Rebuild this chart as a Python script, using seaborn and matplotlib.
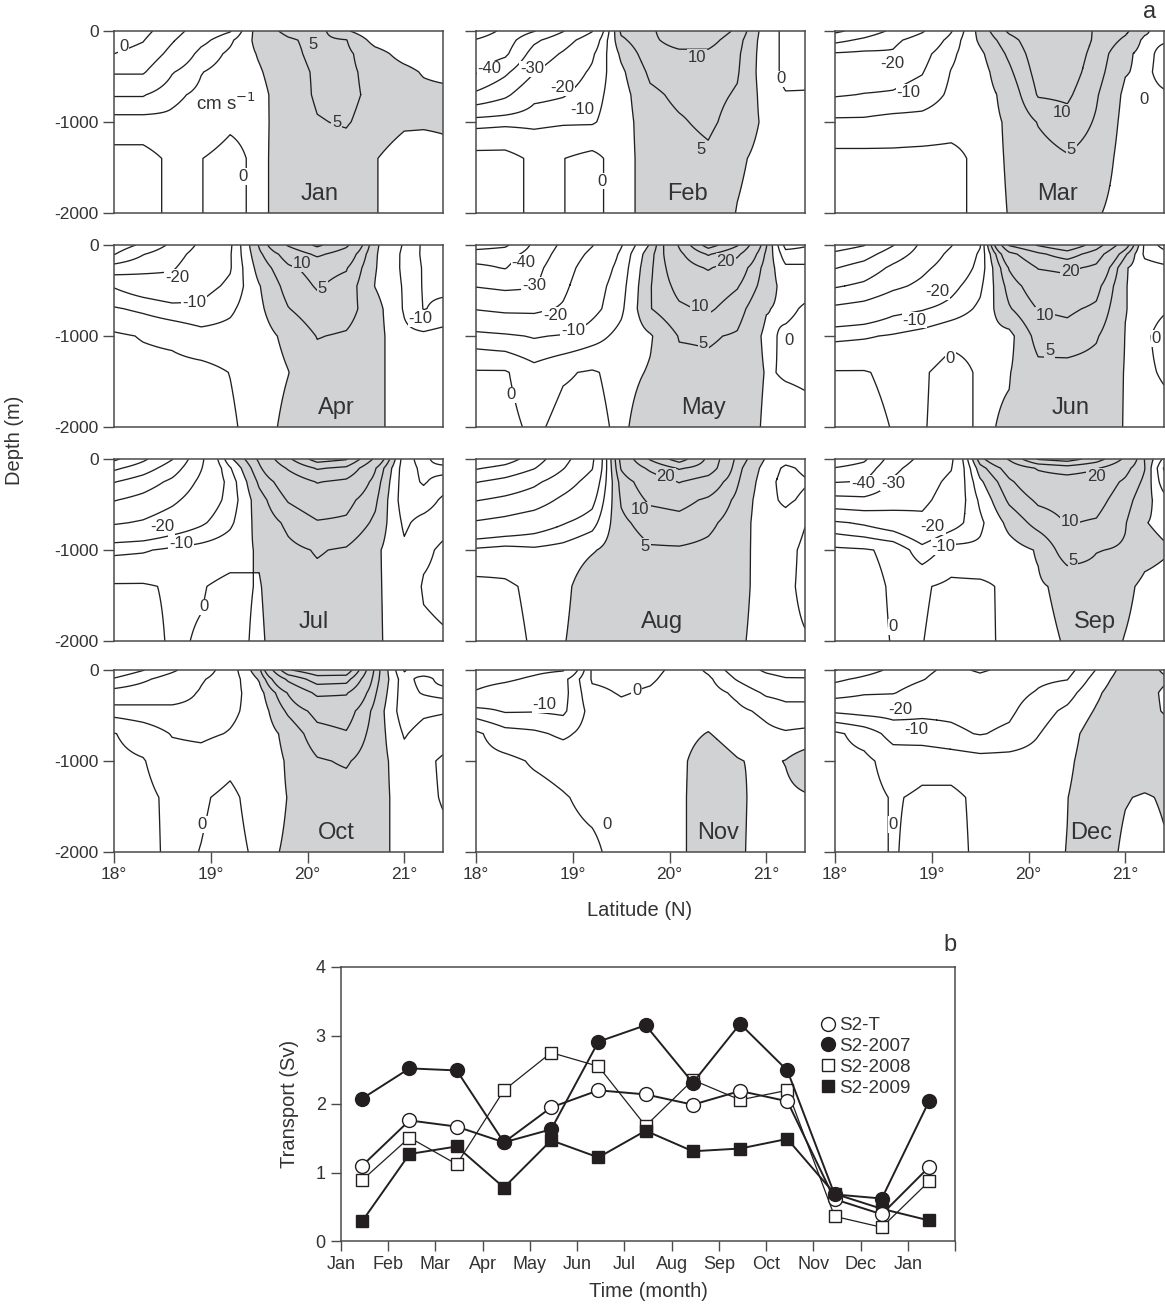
import numpy as np
import pandas as pd
import matplotlib
matplotlib.use("Agg")
import matplotlib.pyplot as plt
from matplotlib.lines import Line2D
import seaborn as sns

# ---------------- data: panel a (velocity sections, cm/s) ----------------
LAT = [18.0, 18.3, 18.6, 18.9, 19.2, 19.5, 19.8, 20.1, 20.4, 20.7, 21.0, 21.2, 21.4]
DEPTH = [0, -100, -250, -450, -700, -1000, -1400, -2000]
MONTHS = ["Jan", "Feb", "Mar", "Apr", "May", "Jun", "Jul", "Aug", "Sep", "Oct", "Nov", "Dec"]
LEVELS = [-60, -50, -40, -30, -20, -10, -5, 0, 5, 10, 20, 30, 40]

# each month: one depth profile (0 ... -2000 m) per latitude in LAT
JAN = [[-36, -34, -30, -21, -10.5, -3, 1.8, 1.8], [-33, -30.5, -27, -21, -10.5, -3, 1.8, 1.8],
       [-24, -21, -17, -10.5, -6, -4, -1, -1], [-15, -12, -8, -5.2, -4, -3, -0.1, -0.1],
       [-10.5, -6, -4, -3, -2.5, -0.8, 1.5, 1.5], [3, 2, 0.5, -0.5, -1.5, -1.3, -1.2, -1.2],
       [6, 4.5, 4, 3.5, 3, 2.5, 2.5, 2.5], [7, 6, 6, 5.5, 5.5, 4.8, 3.5, 3],
       [0.6, 5.2, 6, 6, 6, 5.3, 3.5, 3], [-4, -2, 2, 3.5, 4, 3.5, 0.3, 0.3],
       [-4, -4, -2, 1.5, 2, 1, -3, -3], [-4, -4, -3, -0.5, 1.5, 0.8, -3, -3],
       [-3, -3, -3, -1.5, 1.5, 1.0, -2, -2]]
FEB = [[-55, -49.5, -46, -41, -28, -6.5, 1.8, 1.8], [-48, -45, -42, -32, -22, -6, 1.8, 1.8],
       [-40.5, -32, -26, -20.5, -12, -6, -1, -1], [-30.5, -24, -19, -14, -10.5, -5.5, -0.1, -0.1],
       [-20.5, -15, -11, -9, -7, -5.5, 1.5, 1.5], [6, 4, 1, -1, -2, -2.3, -2.3, -2.3],
       [9, 9, 8, 6, 4, 3, 2.5, 2.5], [14, 12, 9, 7.5, 6, 4.5, 3, 3],
       [14, 12, 9, 7.5, 6.5, 6, 4, 3], [9, 7, 6, 5.5, 4.5, 3, 0.8, -0.2],
       [-3, -3, -3, -3, -2, -1, -1.5, -2], [1.5, 1.5, 1.5, 1.5, -0.3, -1, -1.5, -2],
       [1.5, 1.5, 1.5, 1.2, -0.3, -1, -1.5, -2]]
MAR = [[-42, -33, -19, -14, -10.5, -4, 1.5, 1.5], [-36, -28, -18, -13, -9.8, -4, 1.5, 1.5],
       [-28, -22, -19, -12, -9.5, -3, 1.2, 1.5], [-21, -16, -12, -10.3, -8, -3, 1.5, 1.5],
       [-10.5, -8, -6, -4.8, -4, -2, 1.5, 1.5], [2, 1, -1, -2, -2, -1.5, -1.3, -1.3],
       [11, 8, 6, 4, 1.5, 0.5, 0.3, 0.1], [15, 14, 13, 12, 10.5, 5.3, 3, 3],
       [16, 15, 14, 13, 11, 8, 4.5, 3], [9, 9, 8, 7, 5.5, 4.5, 3, 0.5],
       [6, 4, 1, 0.3, -1, -1.5, -2, -2], [1, -1, -1.5, -1, -1, -1.5, -2, -2],
       [-3, -0.5, 1.5, 1.5, -0.5, -1.5, -2, -2]]
APR = [[-46, -40.5, -26, -10.5, -4.5, 0.8, 1.5, 1.5], [-38, -30.5, -23, -14, -6, -0.3, 1.5, 1.5],
       [-28, -24, -21, -16, -8, -1, 1.5, 1.5], [-18, -16, -14, -12, -9, -3, 1.5, 1.5],
       [-11, -10.5, -10.5, -9, -6, -3, -0.1, 0.8], [5.5, 4, 2.1, -0.3, -1, -2, -2.5, -2.2],
       [21, 13, 9, 7, 4.8, 1.2, -0.1, 1.3], [32, 22, 12, 10.5, 8, 5.2, 3, 3],
       [22, 15, 10.5, 8, 7, 4.5, 3, 3], [0.8, 0.5, 0.3, -0.2, 2, 2, 2, 2],
       [-5.5, -6, -6, -5.5, -5.5, -4, -4, -4], [-11, -11, -10.5, -10.5, -10.2, -4, -2, -2],
       [-12, -12, -12, -11, -9, -3, -1, -1]]
MAY = [[-55, -45, -38, -30.5, -20.5, -8, 0.5, 1.5], [-52, -44, -40.5, -32, -22, -9, 0.5, 1.5],
       [-38, -36, -33, -31, -22, -10.5, -3, -1], [-28, -26, -24, -22, -19, -9.5, -0.5, 1.5],
       [-20.5, -18, -15, -13, -12, -7, 0.5, 1.5], [-10.5, -9, -8, -7, -6, -3.5, -1.5, -1],
       [0.5, 3, 4, 4.7, 4.8, -0.5, 0.4, 2.75], [21, 18, 15, 12, 9, 5.3, 3.5, 3.5],
       [45, 31, 21, 14, 11, 5.5, 4, 3.5], [31, 22, 14, 10.5, 7, 4.5, 3.5, 3.5],
       [5.5, 4, 3, 2.5, 0.3, -1, -0.3, -0.9], [-12, -8, -4, -2, -1, 0.8, 0.3, -1.5],
       [-10.5, -8, -4, -1.5, 0.5, 1.5, 0.5, -1]]
JUN = [[-55, -48, -40.5, -31, -18, -6, 0.3, 1.5], [-50.5, -44, -36, -28, -16, -5.5, 0.3, 1.5],
       [-40.5, -35, -28, -22, -12, -4.5, -1, -0.2], [-28, -26, -22, -18, -10.5, -3, -0.5, -0.3],
       [-20.5, -18, -16, -12, -8, -1, 1.5, 1.5], [-10.5, -9, -8, -6, -4, -1, -0.5, -0.5],
       [31, 17, 10.5, 7, 4.5, -1.5, -0.2, 0.44], [41, 28, 20.5, 14, 10.3, 7, 3.5, 3],
       [49, 35, 22, 16, 11, 8, 3, 3], [35, 25, 18, 12, 9, 5.5, 3, 3],
       [14, 6, 0.5, 0.2, 0.1, -0.1, -0.2, -0.3], [-6, -6, -3, -2, -1, -0.5, -0.5, -1],
       [-12, -8, -4, -1, -0.3, 1, 0.3, -1]]
JUL = [[-62, -52, -40.5, -30.5, -21, -6, 0.5, 1.5], [-52, -45, -35, -27, -19, -5.5, 0.5, 1.5],
       [-40.5, -35, -28, -22, -15, -4, -0.5, -0.5], [-22, -20.5, -18, -15, -11, -3, -0.3, 0.3],
       [-1, -5.5, -8, -8, -6, -2, 1.2, 1.5], [11, 9, 6, 3, 2, 0.5, -0.3, -0.8],
       [28, 21, 14, 10.5, 6, 4, 3.5, 3.25], [45, 31, 20.5, 14, 9.5, 5.3, 4, 3.5],
       [41, 28, 18, 12, 9, 4.5, 3.5, 3.5], [18, 10.5, 8, 6, 4, 1, 1, 1.2],
       [-8, -8, -8, -8, -6, -4, -3.5, -3.5], [-12, -11, -10.5, -8, -3, -1, 0.5, -1],
       [-6, -12, -8, -4, -1.5, 0.8, 1.2, -0.5]]
AUG = [[-60, -51, -40.5, -30.5, -19, -4, 1.5, 1.5], [-55, -47, -37, -28, -17, -3, 0.8, 1.5],
       [-45, -40.5, -32, -25, -14, -4, -1, -0.5], [-33, -30.5, -25, -18, -10.5, -3, -1.5, -0.4],
       [-22, -20.5, -16, -12, -7, -0.5, 3.5, 3.6], [12, 10.5, 7, 5.5, 4, 2.5, 3.5, 3.6],
       [31, 22, 14, 11, 7, 4.5, 4, 3.8], [45, 31, 20.5, 12, 8, 4.5, 4, 3.8],
       [28, 26, 15, 9, 6, 4, 3.5, 3.5], [8, 6.5, 5.5, 4, 3, 2.5, 2, 1],
       [-0.5, -2, -3, -3.4, -3.4, -3, -2.5, -2.3], [-3, -6, -7, -6, -3, -1.5, -1, -1],
       [-2, -4, -5.5, -4, -0.2, 1, 1, -0.3]]
SEP = [[-58, -49.5, -40.5, -27, -9, 1, 1.5, 1.5], [-52, -46, -39.5, -28, -11, 0.5, 1.5, 1.5],
       [-35, -32, -29, -25, -14, -1, -0.5, -0.2], [-28, -26, -24, -22, -18, -8, -0.5, -0.1],
       [-22, -20.5, -18, -16, -13, -3, 1, 1.5], [8, 3, -1, -4, -6, -4, 1, 1.2],
       [21, 13, 9, 6, 1.5, -2, -1, -1.05], [41, 21, 15, 11, 7, 0.4, -0.5, -1],
       [45, 25, 15, 12, 10.3, 8, 1, 0.3], [35, 21, 14, 12, 9.5, 5.2, 3, 2],
       [18, 12, 9, 7, 5.3, 4.5, 1, -0.2], [4.8, 5.2, 4, 2, 0.2, 1.5, -1, -1.5],
       [-6, -10.5, -8, -3, -1, 0.5, -1.5, -2]]
OCT = [[-38, -29, -16, -7, 0.2, 1, 1.5, 1.5], [-30.5, -22, -14, -8, -2, 0.3, 1.2, 1.5],
       [-22, -15, -12, -9, -5.3, -3, -1, -1], [-12, -10.4, -9.6, -9, -6, -3, -0.5, 0.1],
       [-8, -8, -7, -6, -4.7, -1.2, 1, 1.5], [3.4, 0.5, -2, -3, -3, -3, -2, -0.9],
       [39, 22, 10.5, 6, 1.5, 0.5, 0.1, 0.4], [48, 35, 22, 12, 8, 4.5, 3, 2.5],
       [48, 34, 21, 13, 9.5, 5.5, 3, 2.5], [8, 7, 5.5, 3.5, 3, 2.5, 2, 2],
       [-10.5, -8, -8, -8, -5.5, -3, -2, -2], [-6, -12, -10.5, -6, -3, -1, -1, -1],
       [-9.5, -8, -12, -5.5, -2, 0.6, 0.3, -1]]
NOV = [[-28, -24, -19, -8, 1, 1.5, 1.2, 1.5], [-26, -22, -14, -10.5, -3, 1.2, 1.5, 1.5],
       [-23, -18, -11, -10.3, -4, -0.5, 1.5, 1.5], [-21, -12, -12, -11, -6, -1.5, 0.3, 1.2],
       [0.8, 0.5, -1, -3, -3, -3, -1, 0.8], [1.2, 1, 0.3, -1, -2, -2, -1.5, -1.5],
       [1, 0.5, -0.5, -1.5, -2, -2, -2, -2], [-1, -1.5, -2, -2, -1.5, -1, -1, -1],
       [-6, -4, -3, -2, 0.2, 2.5, 3, 3], [-13, -10.5, -6, -4, -2, 0.3, 1.5, 1.2],
       [-22, -16, -11, -6, -4, -1, -3, -3], [-25, -19, -12, -8, -4.5, 0.2, -1, -2],
       [-26, -19, -12, -8, -4, 3, -0.5, -1]]
DEC = [[-40.5, -32, -24, -11, 1, 1.5, 1.5, 1.5], [-34, -28, -21, -12, -2, 1.2, 1.5, 1.5],
       [-28, -24, -20.5, -12, -7, -2, -0.3, -0.3], [-22, -20.5, -16, -11, -8, -1, 0.5, 1.2],
       [-18, -16, -13, -11, -9, -2, 1, 1.5], [-21, -18, -15, -12, -10.3, -3, -1, -1],
       [-18, -15, -12, -11, -9, -3, -1.5, -1], [-14, -11, -9.5, -7, -5.2, -3, -2, -1.5],
       [-12, -10.2, -7, -4, -2, -1, -0.1, 0.1], [-4.8, -3, -1, 0.5, 2.6, 3, 3, 3],
       [2.1, 3, 4, 4, 4, 4, 0.3, -1], [3, 3, 2.5, 2.5, 3.5, 3.5, -0.5, -2],
       [-1, 1, -1, -0.5, 3, 3, 0.5, -0.5]]
SECTIONS = [JAN, FEB, MAR, APR, MAY, JUN, JUL, AUG, SEP, OCT, NOV, DEC]

# contour labels as printed on the sections (lat, depth, text)
CLABELS = [
    [(18.1, -165, "0"), (20.06, -147, "5"), (20.3, -1009, "5"), (19.33, -1596, "0")],
    [(18.14, -416, "-40"), (18.58, -416, "-30"), (18.89, -619, "-20"), (19.1, -858, "-10"),
     (20.28, -287, "10"), (20.33, -1300, "5"), (19.3, -1650, "0"), (21.15, -527, "0")],
    [(18.59, -361, "-20"), (18.76, -674, "-10"), (20.35, -895, "10"), (20.44, -1300, "5"),
     (21.19, -748, "0")],
    [(18.65, -353, "-20"), (18.83, -627, "-10"), (19.94, -208, "10"), (20.15, -481, "5"),
     (21.17, -809, "-10")],
    [(18.49, -190, "-40"), (18.6, -444, "-30"), (18.82, -772, "-20"), (19.0, -936, "-10"),
     (18.36, -1647, "0"), (20.58, -183, "20"), (20.32, -679, "10"), (20.35, -1083, "5"),
     (21.23, -1046, "0")],
    [(19.06, -514, "-20"), (18.82, -826, "-10"), (19.19, -1248, "0"), (20.43, -294, "20"),
     (20.17, -771, "10"), (20.22, -1156, "5"), (21.32, -1028, "0")],
    [(18.5, -743, "-20"), (18.69, -926, "-10"), (18.93, -1625, "0")],
    [(19.96, -191, "20"), (19.7, -559, "10"), (19.75, -963, "5")],
    [(18.29, -265, "-40"), (18.6, -265, "-30"), (19.01, -743, "-20"), (19.12, -963, "-10"),
     (18.6, -1846, "0"), (20.7, -191, "20"), (20.43, -688, "10"), (20.46, -1110, "5")],
    [(18.91, -1696, "0")],
    [(18.71, -380, "-10"), (19.66, -228, "0"), (19.35, -1700, "0")],
    [(18.68, -432, "-20"), (18.84, -652, "-10"), (18.6, -1696, "0")],
]
MONTH_POS = [(20.13, -1790), (20.19, -1790), (20.3, -1790), (20.3, -1790), (20.35, -1790),
             (20.43, -1790), (20.06, -1790), (19.92, -1790), (20.69, -1790), (20.3, -1790),
             (20.5, -1790), (20.65, -1790)]

# ---------------- data: panel b (transport, Sv) ----------------
TICK_MONTHS = ["Jan", "Feb", "Mar", "Apr", "May", "Jun", "Jul", "Aug", "Sep", "Oct", "Nov", "Dec", "Jan"]
S2_T = [1.10, 1.76, 1.67, 1.44, 1.95, 2.20, 2.14, 1.99, 2.19, 2.04, 0.61, 0.39, 1.08]
S2_2007 = [2.08, 2.52, 2.49, 1.44, 1.63, 2.91, 3.15, 2.31, 3.17, 2.49, 0.68, 0.62, 2.04]
S2_2008 = [0.89, 1.51, 1.12, 2.20, 2.75, 2.55, 1.68, 2.35, 2.06, 2.20, 0.36, 0.20, 0.87]
S2_2009 = [0.29, 1.27, 1.38, 0.78, 1.47, 1.22, 1.61, 1.31, 1.35, 1.49, 0.69, 0.47, 0.30]

# ---------------- style ----------------
sns.set_theme(style="ticks")
plt.rcParams["font.family"] = ["Liberation Sans", "DejaVu Sans"]
plt.rcParams["axes.unicode_minus"] = False
plt.rcParams["contour.negative_linestyle"] = "solid"
INK = "#231f20"
TXT = "#333333"
GREY = "#d1d2d4"
SPINE = "#4a4a4a"

fig = plt.figure(figsize=(11.65, 13.1), dpi=100)
W, H = 1165.0, 1310.0


def ax_px(left, top, width, height):
    return fig.add_axes([left / W, 1 - (top + height) / H, width / W, height / H])


lat_f = np.linspace(LAT[0], LAT[-1], 341)
dep_f = np.linspace(-2000, 0, 401)
dep_inc = np.array(DEPTH[::-1], dtype=float)


def refine(profiles):
    V = np.array(profiles, dtype=float).T[::-1]  # rows: increasing depth coordinate
    A = np.array([np.interp(dep_f, dep_inc, V[:, j]) for j in range(V.shape[1])]).T
    return np.array([np.interp(lat_f, LAT, A[i]) for i in range(A.shape[0])])


def core_mask(F, seed=2.0):
    pos = F > 0
    keep = pos & (F >= seed)
    while True:
        g = keep.copy()
        g[1:] |= keep[:-1]
        g[:-1] |= keep[1:]
        g[:, 1:] |= keep[:, :-1]
        g[:, :-1] |= keep[:, 1:]
        g &= pos
        if np.array_equal(g, keep):
            return keep
        keep = g


COL_LEFT = [114, 476, 835]
ROW_TOP = [31, 245, 459, 670]
PW, PH = 329, 182

for m, prof in enumerate(SECTIONS):
    r, c = divmod(m, 3)
    ax = ax_px(COL_LEFT[c], ROW_TOP[r], PW, PH)
    F = refine(prof)
    keep = core_mask(F)
    ax.contourf(lat_f, dep_f, np.where(keep, F, -1.0), levels=[0, 1000], colors=[GREY])
    ax.contour(lat_f, dep_f, F, levels=LEVELS, colors=INK, linewidths=0.95)
    for (la, de, s) in CLABELS[m]:
        i = int(np.argmin(np.abs(dep_f - de)))
        j = int(np.argmin(np.abs(lat_f - la)))
        bg = GREY if keep[i, j] else "white"
        ax.text(la, de, s, ha="center", va="center", fontsize=12, color=TXT, zorder=5,
                bbox=dict(boxstyle="square,pad=0.05", fc=bg, ec="none"))
    ax.text(MONTH_POS[m][0], MONTH_POS[m][1], MONTHS[m], ha="center", va="center",
            fontsize=17, color=TXT, zorder=5)
    if m == 0:
        ax.text(19.16, -790, "cm s$^{-1}$", ha="center", va="center", fontsize=13.5, color=TXT)
    ax.set_xlim(18.0, 21.4)
    ax.set_ylim(-2000, 0)
    ax.set_yticks([0, -1000, -2000])
    if c == 0:
        ax.set_yticklabels(["0", "-1000", "-2000"])
    else:
        ax.set_yticklabels([])
    if r == 3:
        ax.set_xticks([18, 19, 20, 21])
        ax.set_xticklabels(["18°", "19°", "20°", "21°"])
    else:
        ax.set_xticks([])
    ax.tick_params(direction="out", length=8, width=1.0, color=SPINE, labelsize=12.5,
                   labelcolor=TXT, pad=3)
    for sp in ax.spines.values():
        sp.set_color(SPINE)
        sp.set_linewidth(1.1)

fig.text(15 / W, 1 - 440 / H, "Depth (m)", rotation=90, ha="center", va="center",
         fontsize=14.5, color=TXT)
fig.text(640 / W, 1 - 910 / H, "Latitude (N)", ha="center", va="center", fontsize=14.5, color=TXT)
fig.text(1150 / W, 1 - 12 / H, "a", ha="center", va="center", fontsize=17, color=TXT)

# ---------------- panel b ----------------
axb = ax_px(341, 967, 614, 274)
t = np.arange(len(TICK_MONTHS)) + 0.45
df = pd.DataFrame({"t": t, "S2-T": S2_T, "S2-2007": S2_2007, "S2-2008": S2_2008, "S2-2009": S2_2009})
series = [
    ("S2-2008", "s", "white", 0.9, 8.0),
    ("S2-2009", "s", INK, 1.4, 8.0),
    ("S2-T", "o", "white", 1.4, 10.0),
    ("S2-2007", "o", INK, 1.4, 10.0),
]
for name, mk, fc, lw, ms in series:
    sns.lineplot(data=df, x="t", y=name, ax=axb, color=INK, linewidth=lw, marker=mk,
                 markersize=ms, markerfacecolor=fc, markeredgecolor=INK, markeredgewidth=1.0,
                 legend=False, zorder=3)
axb.set_xlim(0, 13)
axb.set_ylim(0, 4)
axb.set_xticks(np.arange(14))
axb.set_xticklabels(TICK_MONTHS + [""])
axb.set_yticks([0, 1, 2, 3, 4])
axb.set_yticklabels(["0", "1", "2", "3", "4"])
axb.tick_params(direction="out", length=7, width=1.0, color=SPINE, labelsize=13,
                labelcolor=TXT, pad=4)
axb.set_xlabel("Time (month)", fontsize=14.5, color=TXT, labelpad=6)
axb.set_ylabel("Transport (Sv)", fontsize=14.5, color=TXT, labelpad=12)
for sp in axb.spines.values():
    sp.set_color(SPINE)
    sp.set_linewidth(1.1)
handles = [
    Line2D([], [], linestyle="none", marker="o", markersize=10, mfc="white", mec=INK, mew=1.0),
    Line2D([], [], linestyle="none", marker="o", markersize=10, mfc=INK, mec=INK, mew=1.0),
    Line2D([], [], linestyle="none", marker="s", markersize=8, mfc="white", mec=INK, mew=1.0),
    Line2D([], [], linestyle="none", marker="s", markersize=8, mfc=INK, mec=INK, mew=1.0),
]
leg = axb.legend(handles, ["S2-T", "S2-2007", "S2-2008", "S2-2009"], loc="upper left",
                 bbox_to_anchor=(0.765, 0.845), frameon=False, fontsize=13.5,
                 handletextpad=0.1, labelspacing=0.2, handlelength=1.0, borderaxespad=0)
for tx in leg.get_texts():
    tx.set_color(TXT)
fig.text(950 / W, 1 - 945 / H, "b", ha="center", va="center", fontsize=17, color=TXT)

fig.savefig("out.png", dpi=100)
